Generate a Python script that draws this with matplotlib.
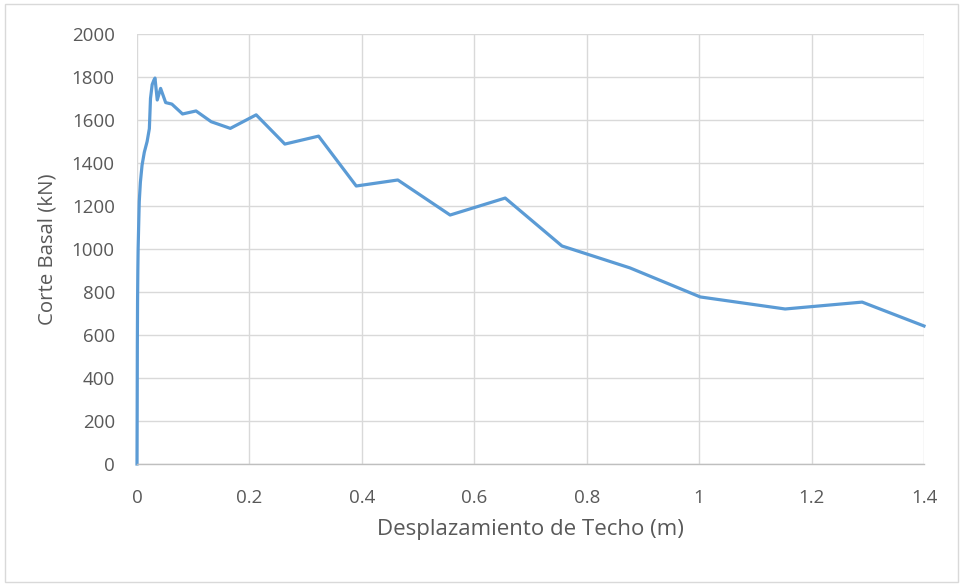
import matplotlib
matplotlib.use("Agg")
import matplotlib.pyplot as plt
from matplotlib.patches import Rectangle

# Data: roof displacement (m) vs base shear (kN)
displacement = [0.0, 0.0003, 0.0006, 0.0010, 0.0015, 0.0020, 0.0028, 0.0040, 0.0060,
                0.0090, 0.0130, 0.0180, 0.0220, 0.0240, 0.0270, 0.0300, 0.0320,
                0.0360, 0.0420, 0.0510, 0.0620, 0.0810, 0.1050, 0.1320, 0.1660,
                0.2120, 0.2630, 0.3230, 0.3900, 0.4640, 0.5570, 0.6550, 0.7560,
                0.8770, 1.0020, 1.1530, 1.2900, 1.4000]
base_shear = [0, 250, 550, 760, 900, 1000, 1090, 1220, 1310,
              1390, 1450, 1500, 1560, 1700, 1765, 1785, 1795,
              1693, 1747, 1681, 1674, 1628, 1642, 1592, 1561,
              1624, 1488, 1525, 1293, 1321, 1158, 1237, 1014,
              912, 777, 721, 753, 642]

x_ticks = [0, 0.2, 0.4, 0.6, 0.8, 1.0, 1.2, 1.4]
x_tick_labels = ["0", "0.2", "0.4", "0.6", "0.8", "1", "1.2", "1.4"]
y_ticks = [0, 200, 400, 600, 800, 1000, 1200, 1400, 1600, 1800, 2000]

plt.rcParams['font.family'] = ['Open Sans', 'DejaVu Sans']

fig = plt.figure(figsize=(9.61, 5.84), dpi=100)
ax = fig.add_axes([137/961, (584-464)/584, (924-137)/961, (464-34)/584])

ax.plot(displacement, base_shear, color='#5B9BD5', linewidth=2.3, solid_joinstyle='round', clip_on=False)

ax.set_xlim(0, 1.4)
ax.set_ylim(0, 2000)
ax.set_xticks(x_ticks)
ax.set_xticklabels(x_tick_labels)
ax.set_yticks(y_ticks)

ax.grid(True, color='#D9D9D9', linewidth=1.0)
ax.set_axisbelow(True)
for s in ['top', 'right', 'left']:
    ax.spines[s].set_visible(False)
ax.spines['bottom'].set_color('#BFBFBF')
ax.spines['bottom'].set_linewidth(1.0)

ax.tick_params(axis='both', length=0, labelsize=13.5, labelcolor='#595959')
ax.tick_params(axis='y', pad=16)
ax.tick_params(axis='x', pad=18)

ax.set_xlabel('Desplazamiento de Techo (m)', fontsize=16, color='#595959', labelpad=9)
ax.set_ylabel('Corte Basal (kN)', fontsize=14.7, color='#595959', labelpad=10)

fig.patches.append(Rectangle((5/961, 2/584), 953/961, 578/584, transform=fig.transFigure,
                             fill=False, edgecolor='#D9D9D9', linewidth=1.0))

fig.savefig('out.png', dpi=100)
